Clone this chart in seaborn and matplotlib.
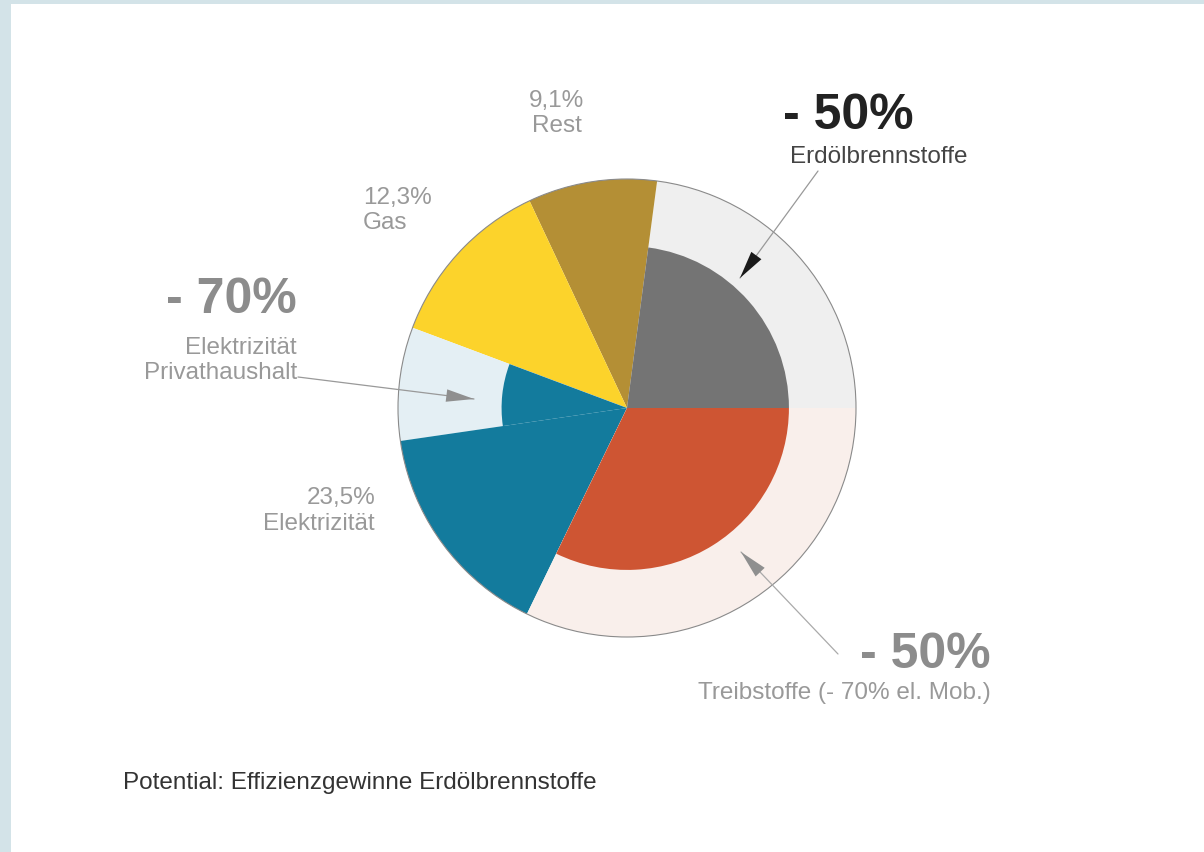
import numpy as np
import matplotlib
matplotlib.use("Agg")
import matplotlib.pyplot as plt
import seaborn as sns

# Segments counter-clockwise from 3 o'clock
segments = ["Erdölbrennstoffe", "Rest", "Gas", "Elektrizität Privathaushalt",
            "Elektrizität übrige", "Treibstoffe"]
shares = [22.9, 9.1, 12.3, 8.0, 15.5, 32.2]
reduction = [0.5, 0.0, 0.0, 0.7, 0.0, 0.5]   # efficiency potential (area share)

outer_colors = ["#efefef", "#b48f35", "#fcd32b", "#e4eff4", "#137b9d", "#f9efeb"]
inner_colors = ["#747474", "#b48f35", "#fcd32b", "#137b9d", "#137b9d", "#ce5533"]

sns.set_theme(style="white")
plt.rcParams["font.family"] = ["Liberation Sans", "DejaVu Sans"]

W, H = 1204, 853
fig = plt.figure(figsize=(W / 100, H / 100), dpi=100)
fig.patch.set_facecolor("#d3e3e8")
left, top = 11, 5
ax = fig.add_axes([left / W, 0, (W - left) / W, (H - top) / H])
ax.set_facecolor("white")


def Y(y):
    return H - y


cx, cy, R = 627, Y(409), 229

# full-size background ring
ax.pie(shares, colors=outer_colors, startangle=0, counterclock=True,
       radius=R, center=(cx, cy), frame=True, wedgeprops=dict(linewidth=0))

# reduced wedges (area-scaled radius)
for red in sorted(set(r for r in reduction if r > 0)):
    cols = [c if r == red else "none" for c, r in zip(inner_colors, reduction)]
    ax.pie(shares, colors=cols, startangle=0, counterclock=True,
           radius=R * np.sqrt(1 - red), center=(cx, cy), frame=True,
           wedgeprops=dict(linewidth=0))

# thin outline
ax.pie([1], colors=["none"], radius=R, center=(cx, cy), frame=True,
       wedgeprops=dict(linewidth=0.8, edgecolor="#8a8a8a"))

ax.set_xlim(left, W)
ax.set_ylim(0, H - top)
ax.set_aspect("equal")
for s in ax.spines.values():
    s.set_visible(False)
ax.set_xticks([])
ax.set_yticks([])

grey = "#999999"
small = 17.5
big = 36

ax.text(557, Y(101), "9,1%", ha="center", va="center", fontsize=small, color=grey)
ax.text(557, Y(126), "Rest", ha="center", va="center", fontsize=small, color=grey)

ax.text(363, Y(198), "12,3%", ha="left", va="center", fontsize=small, color=grey)
ax.text(363, Y(223), "Gas", ha="left", va="center", fontsize=small, color=grey)

ax.text(297, Y(300), "- 70%", ha="right", va="center", fontsize=big,
        fontweight="bold", color="#8c8c8c")
ax.text(297, Y(348), "Elektrizität", ha="right", va="center", fontsize=small, color=grey)
ax.text(297, Y(373), "Privathaushalt", ha="right", va="center", fontsize=small, color=grey)

ax.text(375, Y(498), "23,5%", ha="right", va="center", fontsize=small, color=grey)
ax.text(375, Y(524), "Elektrizität", ha="right", va="center", fontsize=small, color=grey)

ax.text(783, Y(116), "- 50%", ha="left", va="center", fontsize=big,
        fontweight="bold", color="#222222")
ax.text(790, Y(157), "Erdölbrennstoffe", ha="left", va="center", fontsize=small,
        color="#444444")

ax.text(991, Y(655), "- 50%", ha="right", va="center", fontsize=big,
        fontweight="bold", color="#8c8c8c")
ax.text(991, Y(693), "Treibstoffe (- 70% el. Mob.)", ha="right", va="center",
        fontsize=small, color=grey)

ax.text(123, Y(783), "Potential: Effizienzgewinne Erdölbrennstoffe", ha="left",
        va="center", fontsize=17.5, color="#333333")

# arrows: thin line + filled head
arrows = [((818, 172), (740, 279), "#999999", "#1a1a1a"),
          ((298, 378), (474, 400), "#999999", "#8f8f8f"),
          ((838, 655), (741, 553), "#aaaaaa", "#8f8f8f")]
for (x0, y0), (x1, y1), lc, hc in arrows:
    ax.annotate("", xy=(x1, Y(y1)), xytext=(x0, Y(y0)),
                arrowprops=dict(arrowstyle="-", color=lc, lw=0.9,
                                shrinkA=0, shrinkB=0))
    d = np.hypot(x1 - x0, y1 - y0)
    hx = x1 - (x1 - x0) / d * 28
    hy = y1 - (y1 - y0) / d * 28
    ax.annotate("", xy=(x1, Y(y1)), xytext=(hx, Y(hy)),
                arrowprops=dict(arrowstyle="-|>,head_length=2.0,head_width=0.45",
                                color=hc, lw=0, shrinkA=0, shrinkB=0,
                                mutation_scale=10))

fig.savefig("out.png", dpi=100, facecolor=fig.get_facecolor())
